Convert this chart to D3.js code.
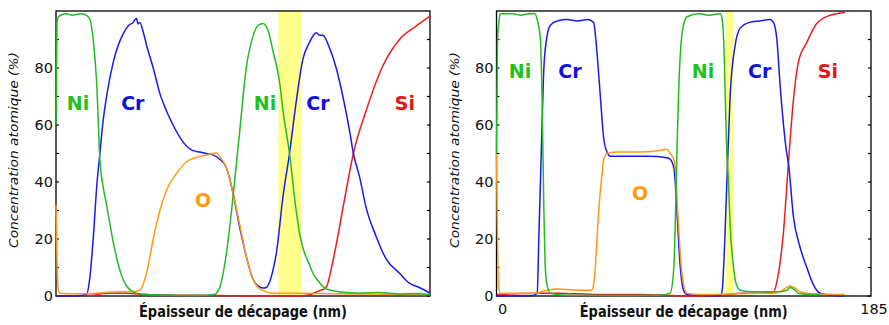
<!DOCTYPE html>
<html><head><meta charset="utf-8">
<script src="https://cdn.jsdelivr.net/npm/d3@7"></script>
<style>body{margin:0;background:#fff}svg{display:block}</style>
</head><body>
<script>
// ---------- DATA (x: Épaisseur de décapage, 0–185 nm ; y: concentration atomique %) ----------
const leftNi = [[0,60],[0.5,96],[1.2,98],[5,99],[8,98.5],[12,99],[15,98.5],[16.8,97],[18.4,90],[20.1,75],[21.7,48],[23.4,38],[25,32],[28.3,19],[31.6,9],[34.9,3.5],[37,2],[39.8,1],[45,0.5],[55,0.3],[70,0.2],[78,0.5],[79.3,1],[81,3],[84.3,15],[87.6,35],[90.9,58],[94.1,80],[97.4,91],[100,95],[102.4,95.6],[105,93],[107.3,86],[110.6,75],[112.3,65],[115.5,50],[118.8,30],[120.5,22],[122.1,17],[125.4,11],[127.1,8],[130,5],[133.6,2.5],[136,2],[140,1.5],[150,1],[160,1.2],[170,0.7],[178,0.9],[185,0.5]];
const leftCr = [[0,0],[10,0],[15.1,0.5],[16.5,5],[18.4,20],[20.1,38],[21.7,50],[23.4,62],[25,70],[28.3,82],[33.2,92],[36,95],[38.2,96],[39.8,97.5],[40.5,95.5],[41.5,96],[43,93],[44.8,88],[48.1,80],[51.4,71],[54.6,65],[57.9,60],[62.9,54],[67.8,51],[71.1,50.5],[74.4,50],[77.7,49.5],[81,48],[84.3,45],[87.6,36],[90.9,24],[94.1,14],[97.4,6],[100,3.5],[102.4,2.8],[104,3],[105.7,5],[107.3,9],[109,15],[112.3,35],[115.5,50],[118.8,68],[122.1,83],[125.4,89],[128.7,92.4],[130.5,91.5],[132,91.5],[135.3,87],[138.6,80],[141.9,70],[145.2,58],[147.1,50],[150.1,42],[153.4,31],[158.3,21],[163.3,13],[169.9,8],[174.8,4.5],[179.7,3],[185,1]];
const leftO = [[0,32],[0.6,10],[1.2,2],[2,1],[10,0.8],[20,1],[30,1.5],[38,1.5],[41.5,2],[43,4],[44.8,8],[48.1,20],[51.4,30],[54.6,37],[59.6,43],[64.5,47],[71.1,49],[77.7,50],[79.3,50.3],[81,49],[84.3,45],[87.6,36],[90.9,25],[94.1,14],[97.4,6],[100,3],[102.4,2],[107.3,1],[120,1],[140,0.8],[160,0.6],[185,0.5]];
const leftSi = [[0,0],[18,0.3],[25,1],[35,1],[45,0.5],[60,0.3],[80,0.2],[100,0],[120,0],[126,0.5],[129,1.5],[131,2],[133.6,3],[136.9,12],[140.2,24],[143.5,37],[147.1,50],[153.4,65],[161.6,80.6],[169.9,90],[178.1,94.7],[185,98.2]];

const rightNi = [[0,50],[0.5,90],[1.5,98],[2,99],[8,99],[12,98.5],[16,99],[19,99],[20.1,97],[21.7,90],[22.5,70],[23.4,30],[24,12],[24.7,5],[26.6,1],[35,0.3],[60,0.2],[80,0.3],[85.8,1],[87.6,10],[88.3,25],[89.1,50],[89.9,70],[90.8,85],[92.4,95],[94.1,98],[100,99],[105,98.5],[110.5,99],[111.5,97],[112.2,90],[113.8,50],[114.6,40],[115.4,25],[117.1,10],[118.5,4],[120.4,2],[125,1.5],[135,1.5],[140,1.5],[143.4,2],[145,3],[146.7,2.5],[149.1,1],[155,0.5],[160,0.5]];
const rightCr = [[0,0],[10,0],[18,0.2],[20.1,1],[20.9,20],[21.7,40],[22.5,60],[23.4,80],[24.7,90],[26.6,95],[30,96.5],[35,97],[40,96.5],[45,97],[48,96],[48.8,92],[49.7,85],[51.3,70],[53,55],[54.6,50.5],[56.2,49],[65,49],[75,49],[84.2,48.5],[85.8,48],[87.6,45],[88.3,40],[89.1,30],[90.8,10],[92.4,2],[94.1,0.5],[110.5,0],[111.5,2],[112.2,10],[113.8,40],[115.4,70],[117.9,88],[120.4,94],[125,96],[130,96.5],[135,97],[136.8,96],[138.5,90],[140.1,74],[143.4,50],[144.2,46.6],[146.7,27.7],[150,17],[153.3,10],[156.5,4],[159.8,1],[165,0.3],[172,0]];
const rightO = [[0,50],[0.5,20],[1,3],[2,1],[10,1],[20,1],[22,1.5],[25,2],[30,2.5],[40,2],[47,2],[48,4],[48.8,10],[50.5,30],[52,42],[53,48],[54.6,50],[60,50.5],[70,50.5],[80,51],[84.2,51.5],[85.8,50],[87.6,48],[88.3,45],[89.9,25],[91.6,8],[94.1,1],[100,0.5],[120,0.8],[130,1],[136.8,1],[140,1.5],[143.4,3],[145,3.5],[147,3],[150,1.5],[155,0.8],[172,0.5]];
const rightSi = [[0,0.5],[10,0.8],[20,1],[30,1],[50,0.5],[70,0.5],[85,0.3],[90,0],[110,0],[115,0.5],[120,1],[130,1],[136.8,1.2],[138.5,5],[141.7,22],[144.2,46.6],[146.7,69],[149.1,82],[153.3,89],[158.2,95.6],[164.8,98.5],[172.2,99.5]];

const leftBand = [110.0, 121.2];
const rightBand = [113.4, 117.0];
const yTicks = [0,10,20,30,40,50,60,70,80,90];
const yTickLabels = [0,20,40,60,80];
const xTickLabels = [0,185];
const leftLabels = [["Ni",10.9,67.7],["Cr",38,67.7],["Ni",103.4,67.7],["Cr",129.6,67.7],["Si",172.6,67.7],["O",72.7,33.7]];
const rightLabels = [["Ni",11.6,79],["Cr",36.3,79],["Ni",102,79],["Cr",130,79],["Si",163.7,79],["O",70.9,36]];
const yTitle = "Concentration atomique (%)";
const xTitle = "Épaisseur de décapage (nm)";

// ---------- DRAW ----------
const W = 889, H = 325;
const svg = d3.select("body").append("svg").attr("width",W).attr("height",H);
const colors = {Ni:"#22bb22", Cr:"#1a1aee", O:"#ff9a18", Si:"#ee1c1c"};
const labelColors = {Ni:"#20c020", Cr:"#1010dd", O:"#ff9a10", Si:"#e81515"};

function panel(x0, x1, series, band, labels, showX){
  const x = d3.scaleLinear().domain([0,185]).range([x0,x1]);
  const y = d3.scaleLinear().domain([0,100]).range([296,11]);
  const g = svg.append("g");
  g.append("rect").attr("x",x(band[0])).attr("y",y(100)).attr("width",x(band[1])-x(band[0])).attr("height",y(0)-y(100)).attr("fill","#ffff8c");
  g.append("rect").attr("x",x0).attr("y",y(100)).attr("width",x1-x0).attr("height",y(0)-y(100)).attr("fill","none").attr("stroke","#000").attr("stroke-width",1.3);
  yTicks.forEach(t=>{
    g.append("line").attr("x1",x0).attr("x2",x0+3).attr("y1",y(t)).attr("y2",y(t)).attr("stroke","#000").attr("stroke-width",1.2);
    g.append("line").attr("x1",x1).attr("x2",x1-3).attr("y1",y(t)).attr("y2",y(t)).attr("stroke","#000").attr("stroke-width",1.2);
  });
  yTickLabels.forEach(t=>{
    g.append("text").attr("x",x0-3).attr("y",y(t)+5).attr("text-anchor","end").attr("font-family","DejaVu Sans").attr("font-size",14.5).attr("fill","#111").text(t);
  });
  const line = d3.line().x(d=>x(d[0])).y(d=>y(d[1])).curve(d3.curveMonotoneX);
  series.forEach(([name,data])=>{
    g.append("path").datum(data).attr("d",line).attr("fill","none").attr("stroke",colors[name]).attr("stroke-width",1.5);
  });
  labels.forEach(([t,lx,ly])=>{
    g.append("text").attr("x",x(lx)).attr("y",y(ly)+7).attr("text-anchor","middle").attr("font-family","DejaVu Sans").attr("font-weight","bold").attr("font-size",19).attr("fill",labelColors[t]).text(t);
  });
  g.append("text").attr("transform",`translate(${x0-38},150) rotate(-90)`).attr("text-anchor","middle").attr("font-family","DejaVu Sans").attr("font-style","italic").attr("font-size",13).attr("textLength",196).attr("lengthAdjust","spacingAndGlyphs").attr("fill","#111").text(yTitle);
  g.append("text").attr("x",(x0+x1)/2).attr("y",317).attr("text-anchor","middle").attr("font-family","DejaVu Sans").attr("font-weight","bold").attr("font-size",15).attr("textLength",208).attr("lengthAdjust","spacingAndGlyphs").attr("fill","#111").text(xTitle);
  if(showX){
    xTickLabels.forEach((t,i)=>{
      g.append("text").attr("x",x(t)+(i===0?6:3)).attr("y",314).attr("text-anchor","middle").attr("font-family","DejaVu Sans").attr("font-size",14.5).attr("fill","#111").text(t);
    });
  }
}

panel(56, 430, [["Si",leftSi],["Cr",leftCr],["O",leftO],["Ni",leftNi]], leftBand, leftLabels, false);
panel(496.5, 871, [["Si",rightSi],["Cr",rightCr],["O",rightO],["Ni",rightNi]], rightBand, rightLabels, true);
</script>
</body></html>
